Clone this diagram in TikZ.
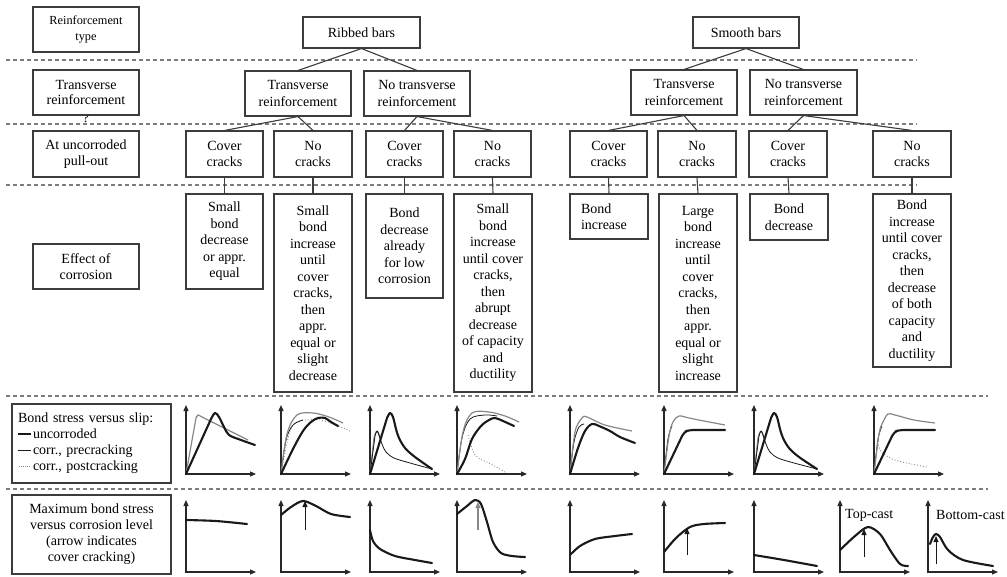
\documentclass[tikz,border=0pt]{standalone}
\usepackage{fontspec}
\setmainfont{Liberation Serif}
\usetikzlibrary{arrows.meta}
\definecolor{boxc}{RGB}{60,60,60}
\definecolor{dashc}{RGB}{125,125,125}
\definecolor{curvg}{RGB}{135,135,135}
\definecolor{inkc}{RGB}{25,25,25}
\definecolor{axc}{RGB}{40,40,40}
\newcommand\fs{\fontsize{14}{16.5}\selectfont}
\newcommand\bx[7][]{\node[box,#1,minimum width={(#5-#3)*1pt},minimum height={(#6-#4)*1pt}] (#2) at ({(#3+#5)/2},{(#4+#6)/2}) {#7};}
\newcommand\plotax[1]{\draw[axis] (0,#1) -- (0,0) -- (70,0);}
\newcommand\thkrule{\textcolor{inkc}{\rule[0.28em]{13pt}{2.2pt}}\hspace{2pt}}
\newcommand\thnrule{\textcolor{inkc}{\rule[0.3em]{13pt}{0.8pt}}\hspace{2pt}}
\newcommand\dotrule{\textcolor{curvg}{\leaders\hbox to 2pt{\hss\raisebox{0.3em}{\rule{0.9pt}{0.9pt}}\hss}\hskip 13pt}\hspace{2pt}}
\tikzset{
  box/.style={draw=boxc,line width=1.1pt,align=center,inner sep=0pt,font=\fs,text=black},
  link/.style={draw=boxc,line width=1.1pt},
  sep/.style={draw=dashc,line width=1.3pt,dash pattern=on 4pt off 3pt},
  axis/.style={draw=axc,line width=1.2pt,{Triangle[length=6pt,width=5pt]}-{Triangle[length=6pt,width=5pt]}},
  thk/.style={draw=inkc,line width=2.1pt,line cap=round,line join=round},
  thn/.style={draw=inkc,line width=0.8pt},
  gry/.style={draw=curvg,line width=1.2pt},
  dtd/.style={draw=curvg,line width=0.9pt,dotted},
  arw/.style={draw=inkc,line width=1pt,-{Triangle[length=6pt,width=5pt]}},
  garw/.style={draw=curvg,line width=1.1pt,-{Triangle[length=6pt,width=5pt]}},
  lbl/.style={font=\fs,inner sep=0pt},
  sm/.style={smooth,tension=0.55}
}
\begin{document}
\begin{tikzpicture}[x=1pt,y=-1pt]
\useasboundingbox (0,0) rectangle (1007,576);
% separators
\draw[sep] (6,60) -- (917,60);
\draw[sep] (6,124) -- (917,124);
\draw[sep] (6,185) -- (917,185);
\draw[sep] (6,396) -- (988,396);
\draw[sep] (6,489) -- (988,489);
% left column
\bx[font=\fontsize{12.3}{16.7}\selectfont]{lt1}{33}{7}{139}{52}{Reinforcement\\type}
\node[lbl] (qm) at (86,118) {?};
\bx[font=\fontsize{14}{15}\selectfont,fill=white]{lt2}{33}{70}{139}{115}{Transverse\\reinforcement}
\bx{lt3}{33}{131}{139}{177}{At uncorroded\\pull-out}
\bx{lt4}{33}{244}{139}{289}{Effect of\\corrosion}
\bx[align=left,text width=147pt,inner xsep=6pt,font=\fontsize{14}{16}\selectfont]{leg}{12}{404}{171}{483}{Bond stress versus slip:\\\thkrule uncorroded\\\thnrule corr., precracking\\\dotrule corr., postcracking}
\bx[font=\fontsize{14}{16}\selectfont]{mx}{12}{495}{171}{574}{Maximum bond stress\\versus corrosion level\\(arrow indicates\\cover cracking)}
% level 1
\bx{rb}{303}{17}{420}{48}{Ribbed bars}
\bx{sb}{693}{17}{799}{48}{Smooth bars}
% level 2
\bx{rt}{245}{71}{351}{116}{Transverse\\reinforcement}
\bx{rn}{364}{71}{470}{116}{No transverse\\reinforcement}
\bx{st}{631}{70}{737}{115}{Transverse\\reinforcement}
\bx{sn}{750}{70}{857}{115}{No transverse\\reinforcement}
% level 3
\bx{r1}{186}{131}{263}{177}{Cover\\cracks}
\bx{r2}{274}{131}{352}{177}{No\\cracks}
\bx{r3}{366}{131}{443}{177}{Cover\\cracks}
\bx{r4}{454}{131}{531}{177}{No\\cracks}
\bx{s1}{570}{131}{647}{177}{Cover\\cracks}
\bx{s2}{658}{131}{736}{177}{No\\cracks}
\bx{s3}{749}{131}{827}{177}{Cover\\cracks}
\bx{s4}{873}{131}{951}{177}{No\\cracks}
% level 4
\bx{e1}{186}{194}{263}{289}{Small\\bond\\decrease\\or appr.\\equal}
\bx{e2}{274}{194}{352}{392}{Small\\bond\\increase\\until\\cover\\cracks,\\then\\appr.\\equal or\\slight\\decrease}
\bx{e3}{366}{194}{443}{298}{Bond\\decrease\\already\\for low\\corrosion}
\bx{e4}{454}{194}{532}{392}{Small\\bond\\increase\\until cover\\cracks,\\then\\abrupt\\decrease\\of capacity\\and\\ductility}
\bx[align=left,text width=56pt,inner xsep=11pt]{f1}{570}{194}{648}{239}{Bond\\increase}
\bx{f2}{659}{194}{737}{392}{Large\\bond\\increase\\until\\cover\\cracks,\\then\\appr.\\equal or\\slight\\increase}
\bx{f3}{750}{194}{828}{240}{Bond\\decrease}
\bx{f4}{873}{194}{951}{367}{Bond\\increase\\until cover\\cracks,\\then\\decrease\\of both\\capacity\\and\\ductility}
% tree links
\draw[link] (rb.south) -- (rt.north);
\draw[link] (rb.south) -- (rn.north);
\draw[link] (sb.south) -- (st.north);
\draw[link] (sb.south) -- (sn.north);
\draw[link] (rt.south) -- (r1.north);
\draw[link] (rt.south) -- (r2.north);
\draw[link] (rn.south) -- (r3.north);
\draw[link] (rn.south) -- (r4.north);
\draw[link] (st.south) -- (s1.north);
\draw[link] (st.south) -- (s2.north);
\draw[link] (sn.south) -- (s3.north);
\draw[link] (sn.south) -- (s4.north);
\foreach \a/\b in {r1/e1,r2/e2,r3/e3,r4/e4,s1/f1,s2/f2,s3/f3,s4/f4}
  \draw[link] (\a.south) -- (\b.north);
% ---------- row 1: bond stress vs slip ----------
\begin{scope}[shift={(186,474)},yscale=-1]
\plotax{69}
\draw[gry] (0,0) -- plot[sm] coordinates {(10,56) (12,59) (15,57.5)} -- (62,34);
\draw[thk] (0,0) -- plot[sm] coordinates {(25,55) (29,61) (33,57) (38,47) (43,39) (55,34) (69,29)};
\end{scope}
\begin{scope}[shift={(281,474)},yscale=-1]
\plotax{69}
\draw[dtd] plot[sm] coordinates {(0,0) (9,43) (19,53) (39,54) (55,49) (69,43)};
\draw[thn] plot[sm] coordinates {(0,0) (5,34) (12,49) (22,54)};
\draw[gry] plot[sm] coordinates {(0,0) (6,40) (16,59) (32,61) (48,57) (62,51)};
\draw[thk] plot[sm] coordinates {(0,0) (12,25) (22,43) (30,52) (37,56) (44,56) (50,52) (57,48)};
\end{scope}
\begin{scope}[shift={(370,474)},yscale=-1]
\plotax{69}
\draw[gry] (0,0) -- plot[sm] coordinates {(4,36) (6,42) (8,42) (10,36)};
\draw[thn] (0,0) -- plot[sm] coordinates {(5,38) (7,43) (9,39) (12,30) (16,22) (24,16) (40,11) (62,5)};
\draw[thk] (0,0) -- plot[sm] coordinates {(17,56) (20,61) (23,57) (26,45) (29,36) (35,26) (45,17) (62,5)};
\end{scope}
\begin{scope}[shift={(457,474)},yscale=-1]
\plotax{69}
\draw[dtd] plot[sm] coordinates {(11,39) (14,29) (18,19) (25,14) (32,11) (48,2)};
\draw[thn] plot[sm] coordinates {(0,0) (5,36) (13,55) (28,59) (40,58)};
\draw[gry] plot[sm] coordinates {(0,0) (6,42) (15,61) (32,62) (48,58) (62,52)};
\draw[thk] plot[sm] coordinates {(0,0) (8,15) (15,35) (24,48) (32,54) (38,56) (46,53) (57,48)};
\end{scope}
\begin{scope}[shift={(570,474)},yscale=-1]
\plotax{69}
\draw[thn] plot[sm] coordinates {(0,0) (4,32) (9,47) (14,50)};
\draw[gry] plot[sm] coordinates {(0,0) (5,42) (12,56) (17,57) (35,49) (62,43)};
\draw[thk] plot[sm] coordinates {(0,0) (8,26) (15,43) (22,50) (29,48) (40,43) (50,37) (65,31)};
\end{scope}
\begin{scope}[shift={(664,474)},yscale=-1]
\plotax{69}
\draw[thn] plot[sm] coordinates {(0,0) (4,35) (8,48)};
\draw[gry] plot[sm] coordinates {(0,0) (5,38) (9,52) (15,58) (25,56) (40,53) (61,49)};
\draw[thk,rounded corners=4pt] (0,0) -- (20,42) -- (25,44) -- (61,44);
\end{scope}
\begin{scope}[shift={(754,474)},yscale=-1]
\plotax{69}
\draw[gry] (0,0) -- plot[sm] coordinates {(4,36) (6,42) (8,42) (10,36)};
\draw[thn] (0,0) -- plot[sm] coordinates {(5,38) (7,43) (9,39) (12,30) (16,22) (24,16) (40,11) (63,5)};
\draw[thk] (0,0) -- plot[sm] coordinates {(17,56) (20,61) (23,57) (26,45) (29,36) (35,26) (45,17) (63,5)};
\end{scope}
\begin{scope}[shift={(874,474)},yscale=-1]
\plotax{69}
\draw[dtd] plot[sm] coordinates {(4,29) (7,23) (11,19) (24,13) (53,7)};
\draw[thn] plot[sm] coordinates {(0,0) (4,35) (8,48)};
\draw[gry] plot[sm] coordinates {(0,0) (5,40) (9,52) (14,60) (21,59) (40,54) (61,51)};
\draw[thk,rounded corners=4pt] (0,0) -- (20,42) -- (25,44) -- (61,44);
\end{scope}
% ---------- row 2: max bond stress vs corrosion ----------
\begin{scope}[shift={(186,572)},yscale=-1]
\plotax{72}
\draw[thk] plot[smooth] coordinates {(0,52) (30,51) (61,48)};
\end{scope}
\begin{scope}[shift={(281,572)},yscale=-1]
\plotax{72}
\draw[thk] plot[smooth] coordinates {(0,57) (10,65) (22,71) (35,66) (50,58) (69,55)};
\draw[arw] (24,42) -- (24,71);
\end{scope}
\begin{scope}[shift={(370,572)},yscale=-1]
\plotax{72}
\draw[thk] plot[smooth] coordinates {(0,42) (3,31) (10,23) (25,16) (45,12) (62,9)};
\end{scope}
\begin{scope}[shift={(457,572)},yscale=-1]
\plotax{72}
\draw[thk] plot[smooth] coordinates {(0,58) (10,66) (18,72) (24,68) (30,50) (36,30) (44,19) (55,16) (68,15)};
\draw[garw] (21,42) -- (21,70);
\end{scope}
\begin{scope}[shift={(570,572)},yscale=-1]
\plotax{72}
\draw[thk] plot[smooth] coordinates {(0,17) (10,26) (25,33) (45,36) (62,38)};
\end{scope}
\begin{scope}[shift={(664,572)},yscale=-1]
\plotax{72}
\draw[thk] plot[smooth] coordinates {(0,20) (12,34) (26,45) (40,48) (61,49)};
\draw[arw] (23,17) -- (23,44);
\end{scope}
\begin{scope}[shift={(754,572)},yscale=-1]
\plotax{72}
\draw[thk] plot[smooth] coordinates {(0,17) (30,12) (63,6)};
\end{scope}
\begin{scope}[shift={(840,572)},yscale=-1]
\plotax{72}
\draw[thk] plot[smooth] coordinates {(0,22) (15,36) (28,45) (40,38) (50,22) (60,8) (68,6)};
\draw[arw] (24,15) -- (24,43);
\end{scope}
\node[lbl,anchor=west] (tc) at (845,515) {Top-cast};
\begin{scope}[shift={(928,572)},yscale=-1]
\plotax{72}
\draw[thk] plot[smooth] coordinates {(2,28) (5,35) (8,38) (12,35) (20,22) (35,12) (65,6)};
\draw[arw] (8,8) -- (8,36);
\end{scope}
\node[lbl,anchor=west] (bc) at (936,515) {Bottom-cast};
\end{tikzpicture}
\end{document}
